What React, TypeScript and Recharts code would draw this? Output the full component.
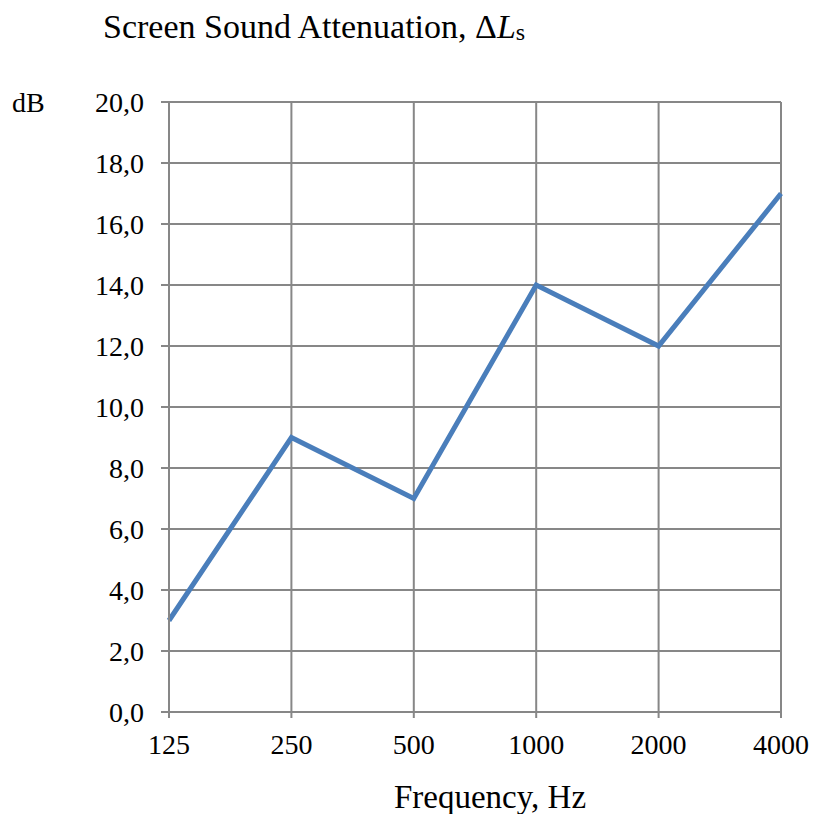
import React from "react";
import { LineChart, Line, XAxis, YAxis, CartesianGrid } from "recharts";

const categories = ["125", "250", "500", "1000", "2000", "4000"];
const attenuation = [3, 9, 7, 14, 12, 17];
const yTicks = [0, 2, 4, 6, 8, 10, 12, 14, 16, 18, 20];

const data = categories.map((c, i) => ({ freq: c, value: attenuation[i] }));

const FONT = "'Liberation Serif', 'Times New Roman', serif";
const GRAY = "#878787";

export default function App() {
  return (
    <div style={{ position: "absolute", left: 0, top: 0, width: 819, height: 814, background: "#fff" }}>
      <LineChart width={819} height={814} data={data} margin={{ top: 102, right: 38, bottom: 0, left: 0 }}>
        <CartesianGrid stroke={GRAY} strokeWidth={2} />
        <XAxis
          dataKey="freq"
          height={102}
          stroke={GRAY}
          strokeWidth={2}
          tickSize={6}
          tickMargin={16}
          tick={{ fill: "#000", fontSize: 28, fontFamily: FONT }}
          interval={0}
        />
        <YAxis
          width={169}
          domain={[0, 20]}
          ticks={yTicks}
          stroke={GRAY}
          strokeWidth={2}
          tickSize={8}
          tickMargin={17}
          interval={0}
          tick={{ fill: "#000", fontSize: 28, fontFamily: FONT }}
          tickFormatter={(v: number) => v.toFixed(1).replace(".", ",")}
        />
        <Line
          type="linear"
          dataKey="value"
          stroke="#4A7EBB"
          strokeWidth={5}
          dot={false}
          isAnimationActive={false}
        />
      </LineChart>
      <svg width={819} height={814} style={{ position: "absolute", left: 0, top: 0, pointerEvents: "none" }}>
        <text x={103} y={38} fontFamily={FONT} fontSize={34} fill="#000">
          Screen Sound Attenuation, Δ<tspan fontStyle="italic">L</tspan>
          <tspan fontSize={24} dy={2}>s</tspan>
        </text>
        <text x={12} y={112} fontFamily={FONT} fontSize={28} fill="#000">dB</text>
        <text x={490} y={808} textAnchor="middle" fontFamily={FONT} fontSize={33} fill="#000">
          Frequency, Hz
        </text>
      </svg>
    </div>
  );
}
